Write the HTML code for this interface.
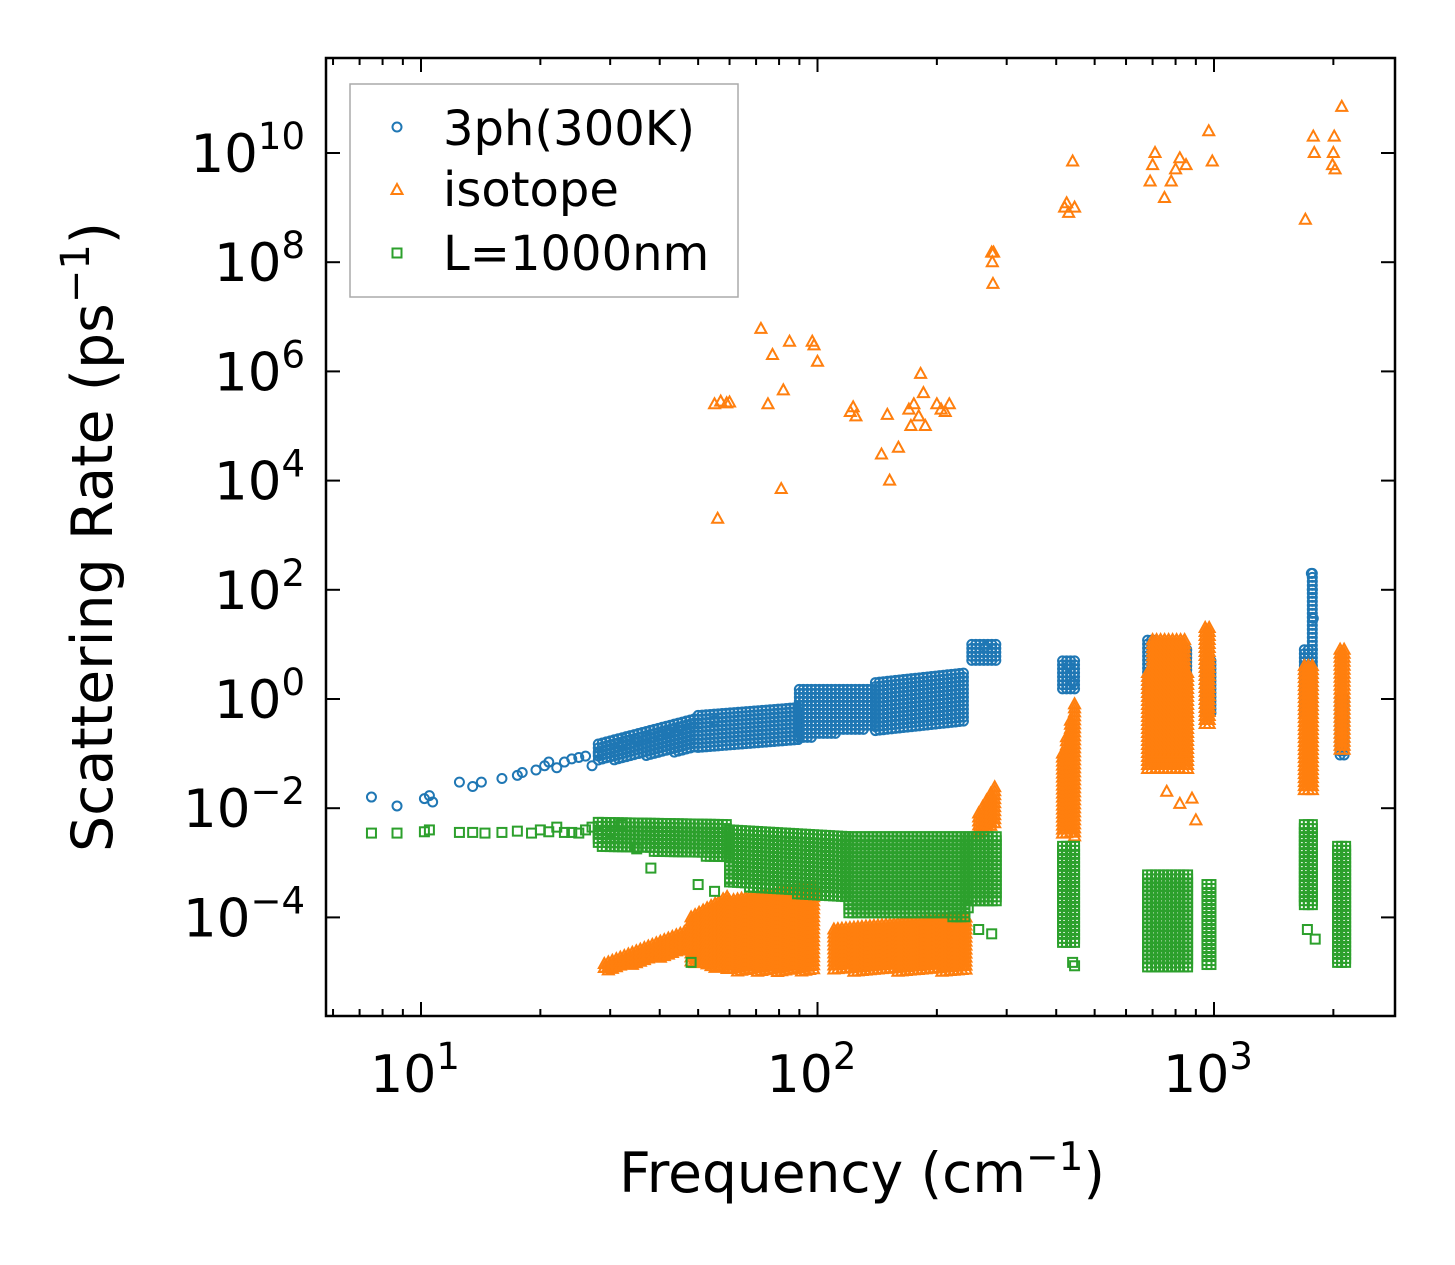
<!DOCTYPE html>
<html><head><meta charset="utf-8"><style>
html,body{margin:0;padding:0;background:#fff;width:1455px;height:1265px;overflow:hidden}
svg text{font-family:"DejaVu Sans","Liberation Sans",sans-serif;fill:#000}
</style></head><body>
<svg id="chart" width="1455" height="1265" viewBox="0 0 1455 1265" xmlns="http://www.w3.org/2000/svg">
<g id="marks"></g>
<g id="axes"></g>
</svg>
<script>
// ---- data ----
const xTickDecades=[1,2,3];
const yTickDecades=[-4,-2,0,2,4,6,8,10];
const blueFreq=[7.5,8.7,10.2,10.5,10.7,12.5,13.5,14.2,16,17.5,18,19.5,20.5,21,22,23,24,25,26,27,28,30,32,33,35,37,40,42,45,48,50,55,265,275,430,440,1760,1770,1780];
const blueRate=[0.016,0.011,0.015,0.017,0.013,0.03,0.025,0.03,0.035,0.04,0.045,0.05,0.06,0.07,0.055,0.07,0.08,0.085,0.09,0.06,0.1,0.12,0.15,0.2,0.18,0.2,0.22,0.25,0.3,0.35,0.35,0.4,9,6,4,2,200,100,30];
// bands [f0, f1, rateLow0, rateHigh0, rateLow1, rateHigh1]
const blueBands=[[28,50,0.07,0.15,0.12,0.45],[50,90,0.12,0.5,0.18,0.7],[90,140,0.18,1.5,0.3,1.5],[140,235,0.25,2,0.35,3],[245,285,5,10,5,10],[415,445,1.5,5,1.5,5],[680,720,1,12,1,12],[760,860,1.5,8,1.5,8],[960,990,0.5,5,0.5,5],[1690,1800,0.5,8,0.5,8],[1770,1790,8,200,8,200],[2080,2160,0.08,1,0.08,1]];
const orangeFreq=[55,57,59,60,72,75,77,82,85,97,98,100,121,123,125,145,150,152,160,170,172,175,180,182,185,187,200,205,210,215,81,56,275,276,277,278,420,425,430,440,445,690,700,710,750,780,800,820,850,970,990,1700,1780,1790,1990,2000,2010,2020,2100,900,880,760,820];
const orangeRate=[2.5e5,2.8e5,2.6e5,2.7e5,6e6,2.5e5,2e6,4.5e5,3.5e6,3.5e6,3e6,1.5e6,1.8e5,2.2e5,1.5e5,3e4,1.6e5,1e4,4e4,2e5,1e5,2.5e5,1.5e5,9e5,4e5,1e5,2.5e5,2e5,1.8e5,2.5e5,7e3,2e3,1.5e8,1e8,4e7,1.5e8,1e9,1.2e9,8e8,7e9,1e9,3e9,6e9,1e10,1.5e9,3e9,5e9,8e9,6e9,2.5e10,7e9,6e8,2e10,1e10,6e9,1e10,2e10,5e9,7e10,0.006,0.015,0.02,0.012];
const orangeBands=[[29,48,1e-5,1.4e-5,2.5e-5,6e-5],[48,60,1.5e-5,1e-4,1e-5,2.5e-4],[60,100,1e-5,2e-4,1e-5,4e-4],[110,240,1e-5,6e-5,1e-5,1e-4],[255,285,3e-3,8e-3,5e-3,3e-2],[415,445,3e-3,0.1,3e-3,0.8],[680,860,0.05,3,0.05,3],[700,860,0.1,12,0.1,12],[950,990,0.3,20,0.3,20],[1690,1800,0.02,4,0.02,4],[2080,2160,0.1,8,0.1,8]];
const greenFreq=[7.5,8.7,10.2,10.5,12.5,13.5,14.5,16,17.5,19,20,21,22,23,24,25,26,27,28,30,32,35,38,48,50,55,60,240,255,275,440,445,1720,1800];
const greenRate=[0.0035,0.0035,0.0037,0.004,0.0036,0.0036,0.0035,0.0036,0.0038,0.0035,0.004,0.0037,0.0045,0.0036,0.0036,0.0035,0.004,0.0045,0.0035,0.0036,0.005,0.0018,0.0008,1.5e-5,0.0004,0.0003,0.0005,1.5e-4,6e-5,5e-5,1.5e-5,1.3e-5,6e-5,4e-5];
const greenBands=[[28,60,0.002,0.0055,0.0012,0.005],[60,120,0.0004,0.004,0.0002,0.003],[120,240,0.00012,0.003,0.0001,0.003],[240,285,0.0002,0.003,0.0002,0.003],[415,445,3e-5,0.002,3e-5,0.002],[680,860,1.2e-5,6e-4,1.2e-5,6e-4],[960,990,1.2e-5,4e-4,1.2e-5,4e-4],[1690,1800,1.5e-4,5e-3,1.5e-4,5e-3],[2050,2160,1.5e-5,2e-3,1.5e-5,2e-3]];

// ---- axes functions ----
const L=326,R=1395,T=58,B=1016;
const X=f=>421+396.5*(Math.log10(f)-1);
const Y=r=>699-54.6*Math.log10(r);
const NS="http://www.w3.org/2000/svg";
const marks=document.getElementById('marks');
const axes=document.getElementById('axes');
function mk(tag,attrs,parent){const e=document.createElementNS(NS,tag);for(const k in attrs)e.setAttribute(k,attrs[k]);parent.appendChild(e);return e;}
function marker(kind,px,py,parent){
  let e;
  if(kind==='circle'){e=mk('circle',{cx:px,cy:py,r:4.5,fill:'none',stroke:'#1f77b4','stroke-width':2},parent);}
  else if(kind==='tri'){e=mk('polygon',{points:`${px},${py-6} ${px-5.5},${py+4} ${px+5.5},${py+4}`,fill:'none',stroke:'#ff7f0e','stroke-width':2},parent);}
  else {e=mk('rect',{x:px-4.5,y:py-4.5,width:9,height:9,fill:'none',stroke:'#2ca02c','stroke-width':2},parent);}
  return e;
}
function drawSeries(name,kind,fr,rt,bands){
  const g=mk('g',{},marks);
  
  
  bands.forEach(b=>{
    const x0=X(b[0]),x1=X(b[1]);
    for(let px=x0;px<=x1;px+=4){
      const t=(x1>x0)?(px-x0)/(x1-x0):0;
      const lo=Y(b[2])+(Y(b[4])-Y(b[2]))*t, hi=Y(b[3])+(Y(b[5])-Y(b[3]))*t;
      for(let py=hi;py<=lo;py+=4){
        const m=marker(kind,px,py,g);
        
        
      }
    }
  });
  fr.forEach((f,i)=>{
    const m=marker(kind,X(f),Y(rt[i]),g);
    
    
  });
}
drawSeries('series-3ph','circle',blueFreq,blueRate,blueBands);
drawSeries('series-isotope','tri',orangeFreq,orangeRate,orangeBands);
drawSeries('series-boundary','sq',greenFreq,greenRate,greenBands);

const fr=mk('rect',{x:L,y:T,width:R-L,height:B-T,fill:'none',stroke:'#000','stroke-width':2.5},axes);


for(let d=0;d<=3;d++){for(let m=1;m<10;m++){
  const f=m*Math.pow(10,d);const px=X(f);if(px<L||px>R)continue;
  const len=m===1?14:7;
  mk('line',{x1:px,y1:B,x2:px,y2:B-len,stroke:'#000','stroke-width':2},axes);
  mk('line',{x1:px,y1:T,x2:px,y2:T+len,stroke:'#000','stroke-width':2},axes);
}}
xTickDecades.forEach(d=>{
  const t=mk('text',{x:X(Math.pow(10,d))-6,y:1092,'font-size':52,'text-anchor':'middle'},axes);
  
  
  t.innerHTML='10<tspan dy="-23" font-size="37">'+d+'</tspan>';
});
yTickDecades.forEach(d=>{
  const py=Y(Math.pow(10,d));
  mk('line',{x1:L,y1:py,x2:L+14,y2:py,stroke:'#000','stroke-width':2},axes);
  mk('line',{x1:R,y1:py,x2:R-14,y2:py,stroke:'#000','stroke-width':2},axes);
  const t=mk('text',{x:305,y:py+19,'font-size':53,'text-anchor':'end'},axes);
  
  
  const s=d<0?'\u2212'+(-d):''+d;
  t.innerHTML='10<tspan dy="-23" font-size="37">'+s+'</tspan>';
});
</script>
<svg style="position:absolute;left:0;top:0" width="1455" height="1265">
<text x="862" y="1192" font-size="55" text-anchor="middle">Frequency (cm<tspan dy="-22" font-size="39">−1</tspan><tspan dy="22">)</tspan></text>
<text transform="translate(112,537) rotate(-90)" font-size="57" text-anchor="middle">Scattering Rate (ps<tspan dy="-23" font-size="40">−1</tspan><tspan dy="23">)</tspan></text>
<g>
<rect x="350" y="84" width="388" height="213" fill="#fff" fill-opacity="0.8" stroke="#aaa" stroke-width="1.5"/>
<circle cx="397" cy="127" r="4.5" fill="none" stroke="#1f77b4" stroke-width="2"/>
<text x="443" y="145" font-size="48">3ph(300K)</text>
<polygon points="397,184 391.5,194 402.5,194" fill="none" stroke="#ff7f0e" stroke-width="2"/>
<text x="443" y="206" font-size="48">isotope</text>
<rect x="392.5" y="248.5" width="9" height="9" fill="none" stroke="#2ca02c" stroke-width="2"/>
<text x="443" y="270" font-size="48">L=1000nm</text>
</g>
</svg>
</body></html>
